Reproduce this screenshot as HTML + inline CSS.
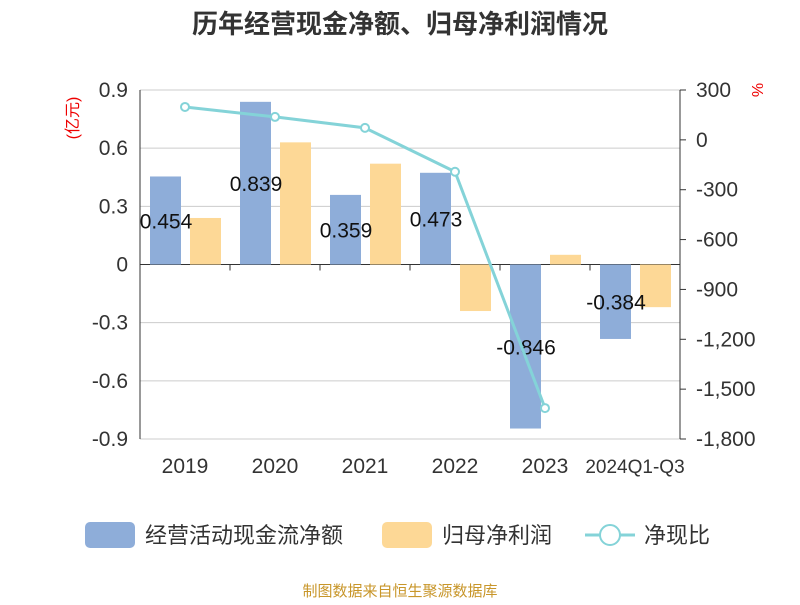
<!DOCTYPE html>
<html><head><meta charset="utf-8"><style>
body{margin:0;background:#fff;font-family:"Liberation Sans","Noto Sans CJK SC",sans-serif;}
</style></head><body>
<svg width="800" height="600" xmlns="http://www.w3.org/2000/svg" font-family="Liberation Sans, Noto Sans CJK SC, sans-serif">
<text x="400" y="33" text-anchor="middle" font-size="26" font-weight="bold" fill="#333">历年经营现金净额、归母净利润情况</text>
<g id="grid"></g><g id="bars"></g><g id="line"></g><g id="axes"></g>
<text x="78" y="118" font-size="16" fill="#e00" transform="rotate(-90 78 118)" text-anchor="middle">(亿元)</text>
<text x="752" y="90" font-size="16" fill="#e00" transform="rotate(90 752 90)" text-anchor="middle">%</text>
<g>
<rect x="85" y="522" width="50" height="26" rx="5" fill="#8eadd9"/>
<text x="145" y="543" font-size="22" fill="#333">经营活动现金流净额</text>
<rect x="382" y="522" width="50" height="26" rx="5" fill="#fdd896"/>
<text x="442" y="543" font-size="22" fill="#333">归母净利润</text>
<line x1="585" y1="535" x2="635" y2="535" stroke="#84d3d8" stroke-width="3"/>
<circle cx="610" cy="535" r="10" fill="#fff" stroke="#84d3d8" stroke-width="2"/>
<text x="644" y="543" font-size="22" fill="#333">净现比</text>
</g>
<text x="400" y="596" text-anchor="middle" font-size="15" fill="#c8962a">制图数据来自恒生聚源数据库</text>
</svg>
<script>
const categories=["2019","2020","2021","2022","2023","2024Q1-Q3"];
const cashFlow=[0.454,0.839,0.359,0.473,-0.846,-0.384];
const netProfit=[0.24,0.63,0.52,-0.24,0.05,-0.22];
const ratio=[198,138,72,-192,-1614,null];
const leftTicks=[0.9,0.6,0.3,0,-0.3,-0.6,-0.9];
const rightTicks=["300","0","-300","-600","-900","-1,200","-1,500","-1,800"];
const rightVals=[300,0,-300,-600,-900,-1200,-1500,-1800];
const NS="http://www.w3.org/2000/svg";
const X0=140,X1=680,Y0=90,Y1=439;
const yL=v=>Y0+(0.9-v)/1.8*(Y1-Y0);
const yR=v=>Y0+(300-v)/2100*(Y1-Y0);
const band=(X1-X0)/categories.length;
const xc=i=>X0+band*(i+0.5);
function mk(tag,attrs,parent,text){const e=document.createElementNS(NS,tag);for(const k in attrs)e.setAttribute(k,attrs[k]);if(text!=null)e.textContent=text;document.getElementById(parent).appendChild(e);return e;}
leftTicks.forEach(t=>{
 const g=mk('line',{x1:X0,x2:X1,y1:yL(t),y2:yL(t),stroke:t===0?'#333':'#ccc','stroke-width':1},'grid');
 
 
 const l=mk('text',{x:X0-12,y:yL(t)+7,'text-anchor':'end','font-size':21,fill:'#333'},'axes',t===0?'0':t.toFixed(1));
 
 
});
rightVals.forEach((v,i)=>{
 const l=mk('text',{x:X1+16,y:yR(v)+7,'font-size':21,fill:'#333'},'axes',rightTicks[i]);
 
 
 const t=mk('line',{x1:X1,x2:X1+6,y1:yR(v),y2:yR(v),stroke:'#333'},'axes');
 
 
});
let a=mk('line',{x1:X0,x2:X0,y1:Y0,y2:Y1,stroke:'#333'},'axes');


a=mk('line',{x1:X1,x2:X1,y1:Y0,y2:Y1,stroke:'#333'},'axes');


categories.forEach((c,i)=>{
 const t=mk('line',{x1:X0+band*(i+1),x2:X0+band*(i+1),y1:yL(0),y2:yL(0)+6,stroke:'#333'},'axes');
 
 
 const l=mk('text',{x:xc(i),y:Y1+34,'text-anchor':'middle','font-size':c.length>5?19:21,fill:'#333'},'axes',c);
 
 
 const bx=xc(i)-35,w=31;
 const v=cashFlow[i];
 const b=mk('rect',{x:bx,y:Math.min(yL(v),yL(0)),width:w,height:Math.abs(yL(v)-yL(0)),fill:'#8eadd9'},'bars');
 
 
 const p=netProfit[i];
 const b2=mk('rect',{x:xc(i)+5,y:Math.min(yL(p),yL(0)),width:w,height:Math.abs(yL(p)-yL(0)),fill:'#fdd896'},'bars');
 
 
});
categories.forEach((c,i)=>{
 const v=cashFlow[i];
 const l=mk('text',{x:xc(i)-19,y:(yL(v)+yL(0))/2+8,'text-anchor':'middle','font-size':21,fill:'#111'},'line',String(v));
 
 
});
const pts=ratio.map((v,i)=>v==null?null:[xc(i),yR(v)]).filter(p=>p);
const pl=mk('polyline',{points:pts.map(p=>p.join(',')).join(' '),fill:'none',stroke:'#84d3d8','stroke-width':3},'line');


pts.forEach(p=>{
 const c=mk('circle',{cx:p[0],cy:p[1],r:4,fill:'#fff',stroke:'#84d3d8','stroke-width':2},'line');
 
 
});
</script>
</body></html>
